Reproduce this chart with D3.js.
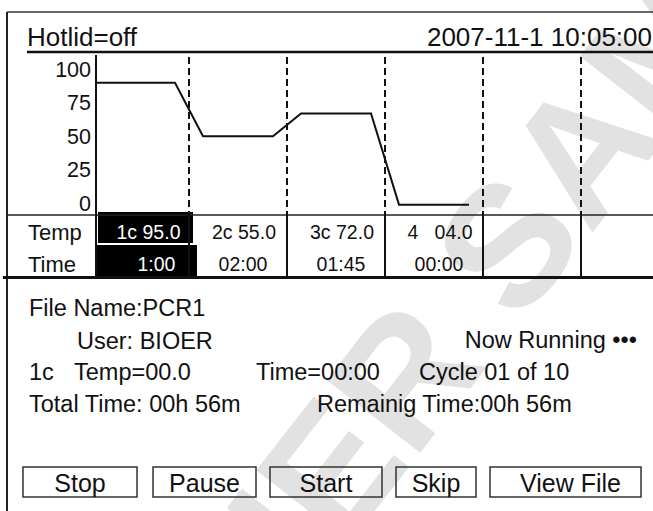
<!DOCTYPE html>
<html>
<head>
<meta charset="utf-8">
<script src="https://cdn.jsdelivr.net/npm/d3@7"></script>
<style>
  body { margin: 0; background: #fff; }
  svg { display: block; font-family: "Liberation Sans", Arial, sans-serif; }
  text { fill: #111; }
</style>
</head>
<body>
<svg id="screen" width="653" height="511"></svg>
<script>
// program steps on the run screen
var stepLabels = ['1c', '2c', '3c', '4  '];
var stepTemps = [95.0, 55.0, 72.0, 4.0];
var stepTimes = ['1:00', '02:00', '01:45', '00:00'];
var columnCount = 6;
var tempTicks = [0, 25, 50, 75, 100];

// status texts
var hotlid = 'off';
var stamp = '2007-11-1 10:05:00';
var fileName = 'PCR1';
var userName = 'BIOER';
var curStep = '1c', curTemp = '00.0', curTime = '00:00';
var cycleNow = 1, cycleAll = 10;
var totalTime = '00h 56m', remainTime = '00h 56m';
var buttons = ['Stop', 'Pause', 'Start', 'Skip', 'View File'];

DrawScreen();

function DrawScreen() {
  var svg = d3.select('#screen');
  var W = 653;

  // watermark behind everything
  svg.append('text')
    .attr('transform', 'translate(266,650) rotate(-52)')
    .style('font-size', '172px')
    .style('font-weight', 'bold')
    .style('fill', '#e2e2e2')
    .style('white-space', 'pre')
    .text('HER SAM');

  // outer frame
  svg.append('line').attr('x1', 7).attr('y1', 12).attr('x2', W).attr('y2', 12)
    .attr('stroke', '#333').attr('stroke-width', 1.5);
  svg.append('line').attr('x1', 7).attr('y1', 12).attr('x2', 7).attr('y2', 511)
    .attr('stroke', '#222').attr('stroke-width', 2);

  // header
  svg.append('text').attr('x', 27).attr('y', 46)
    .style('font-size', '26px').text('Hotlid=' + hotlid);
  svg.append('text').attr('x', 652).attr('y', 46)
    .attr('text-anchor', 'end').style('font-size', '26px').text(stamp);
  svg.append('line').attr('x1', 27).attr('y1', 52).attr('x2', W).attr('y2', 52)
    .attr('stroke', '#111').attr('stroke-width', 2.5);

  var x = d3.scaleLinear().domain([0, 1, columnCount]).range([96, 189, 679]);
  var y = d3.scaleLinear().domain([0, 100]).range([210, 76]);
  var tableTop = 215, rowMid = 244, tableBottom = 277;

  // highlighted current step
  svg.append('rect')
    .attr('x', x(0) + 2).attr('y', tableTop - 3)
    .attr('width', x(1) - x(0) + 2).attr('height', rowMid - tableTop + 2)
    .style('fill', '#000');
  svg.append('rect')
    .attr('x', x(0) + 1).attr('y', rowMid + 1)
    .attr('width', x(1) - x(0) + 7).attr('height', tableBottom - rowMid - 2)
    .style('fill', '#000');

  // table lines
  svg.append('line').attr('x1', 7).attr('y1', tableTop).attr('x2', W).attr('y2', tableTop)
    .attr('stroke', '#222').attr('stroke-width', 1.5);
  svg.append('line').attr('x1', 3).attr('y1', tableBottom + 0.5).attr('x2', W).attr('y2', tableBottom + 0.5)
    .attr('stroke', '#111').attr('stroke-width', 3);

  var bounds = d3.range(1, columnCount);
  svg.selectAll('line.dash')
    .data(bounds)
    .enter()
    .append('line')
    .attr('class', 'dash')
    .attr('x1', function(d) { return x(d); })
    .attr('x2', function(d) { return x(d); })
    .attr('y1', 57)
    .attr('y2', tableTop)
    .attr('stroke', '#111')
    .attr('stroke-width', 2)
    .attr('stroke-dasharray', '7,4');
  svg.selectAll('line.col')
    .data([0].concat(bounds))
    .enter()
    .append('line')
    .attr('class', 'col')
    .attr('x1', function(d) { return x(d); })
    .attr('x2', function(d) { return x(d); })
    .attr('y1', function(d) { return d === 0 ? 55 : tableTop; })
    .attr('y2', tableBottom)
    .attr('stroke', '#111')
    .attr('stroke-width', 2);

  // temperature axis
  var axis = svg.append('g')
    .attr('transform', 'translate(' + x(0) + ',0)')
    .call(d3.axisLeft(y).tickValues(tempTicks).tickSize(0).tickPadding(5));
  axis.select('.domain').remove();
  axis.selectAll('text')
    .attr('dy', 0)
    .style('font-size', '21.5px')
    .style('font-family', '"Liberation Sans", Arial, sans-serif')
    .style('fill', '#111');

  // temperature profile: hold inside a column, ramp across the border
  var ramp = 14;
  var pts = [];
  stepTemps.forEach(function(t, i) {
    var x0 = i === 0 ? x(0) : x(i) + ramp;
    var x1 = x(i + 1) - ramp;
    pts.push([x0, y(t)], [x1, y(t)]);
  });
  svg.append('path')
    .attr('d', d3.line()(pts))
    .style('fill', 'none')
    .style('stroke', '#111')
    .style('stroke-width', 2);

  // table texts
  svg.append('text').attr('x', 28).attr('y', 240).style('font-size', '22px').text('Temp');
  svg.append('text').attr('x', 28).attr('y', 272).style('font-size', '22px').text('Time');

  var fmt = d3.format('04.1f');
  svg.selectAll('text.temp')
    .data(stepTemps)
    .enter()
    .append('text')
    .attr('class', 'temp')
    .attr('x', function(d, i) { return (x(i) + x(i + 1)) / 2 + 6; })
    .attr('y', 239)
    .attr('text-anchor', 'middle')
    .style('font-size', '19.5px')
    .style('white-space', 'pre')
    .style('fill', function(d, i) { return i === 0 ? '#fff' : '#111'; })
    .text(function(d, i) { return stepLabels[i] + ' ' + fmt(d); });
  svg.selectAll('text.time')
    .data(stepTimes)
    .enter()
    .append('text')
    .attr('class', 'time')
    .attr('x', function(d, i) { return (x(i) + x(i + 1)) / 2 + (i === 0 ? 14 : 5); })
    .attr('y', 271)
    .attr('text-anchor', 'middle')
    .style('font-size', '19.5px')
    .style('fill', function(d, i) { return i === 0 ? '#fff' : '#111'; })
    .text(function(d) { return d; });

  // run information
  var info = [
    { x: 29, y: 316, t: 'File Name:' + fileName },
    { x: 77, y: 349, t: 'User: ' + userName },
    { x: 637, y: 348, t: 'Now Running \u2022\u2022\u2022', end: true },
    { x: 29, y: 380, t: curStep },
    { x: 74, y: 380, t: 'Temp=' + curTemp },
    { x: 256, y: 380, t: 'Time=' + curTime },
    { x: 419, y: 380, t: 'Cycle ' + d3.format('02')(cycleNow) + ' of ' + cycleAll },
    { x: 29, y: 412, t: 'Total Time: ' + totalTime },
    { x: 317, y: 412, t: 'Remainig Time:' + remainTime }
  ];
  svg.selectAll('text.info')
    .data(info)
    .enter()
    .append('text')
    .attr('class', 'info')
    .attr('x', function(d) { return d.x; })
    .attr('y', function(d) { return d.y; })
    .attr('text-anchor', function(d) { return d.end ? 'end' : 'start'; })
    .style('font-size', '23.5px')
    .text(function(d) { return d.t; });

  // buttons
  var btnBox = [[23, 137], [153, 256], [270, 382], [396, 476], [490, 641]];
  var btn = svg.selectAll('g.btn')
    .data(buttons)
    .enter()
    .append('g')
    .attr('class', 'btn');
  btn.append('rect')
    .attr('x', function(d, i) { return btnBox[i][0]; })
    .attr('y', 467)
    .attr('width', function(d, i) { return btnBox[i][1] - btnBox[i][0]; })
    .attr('height', 30)
    .style('fill', 'none')
    .style('stroke', '#333')
    .style('stroke-width', 1.5);
  btn.append('text')
    .attr('x', function(d, i) { return (btnBox[i][0] + btnBox[i][1]) / 2 + (i === 4 ? 5 : 0); })
    .attr('y', 492)
    .attr('text-anchor', 'middle')
    .style('font-size', '25px')
    .text(function(d) { return d; });
}
</script>
</body>
</html>
